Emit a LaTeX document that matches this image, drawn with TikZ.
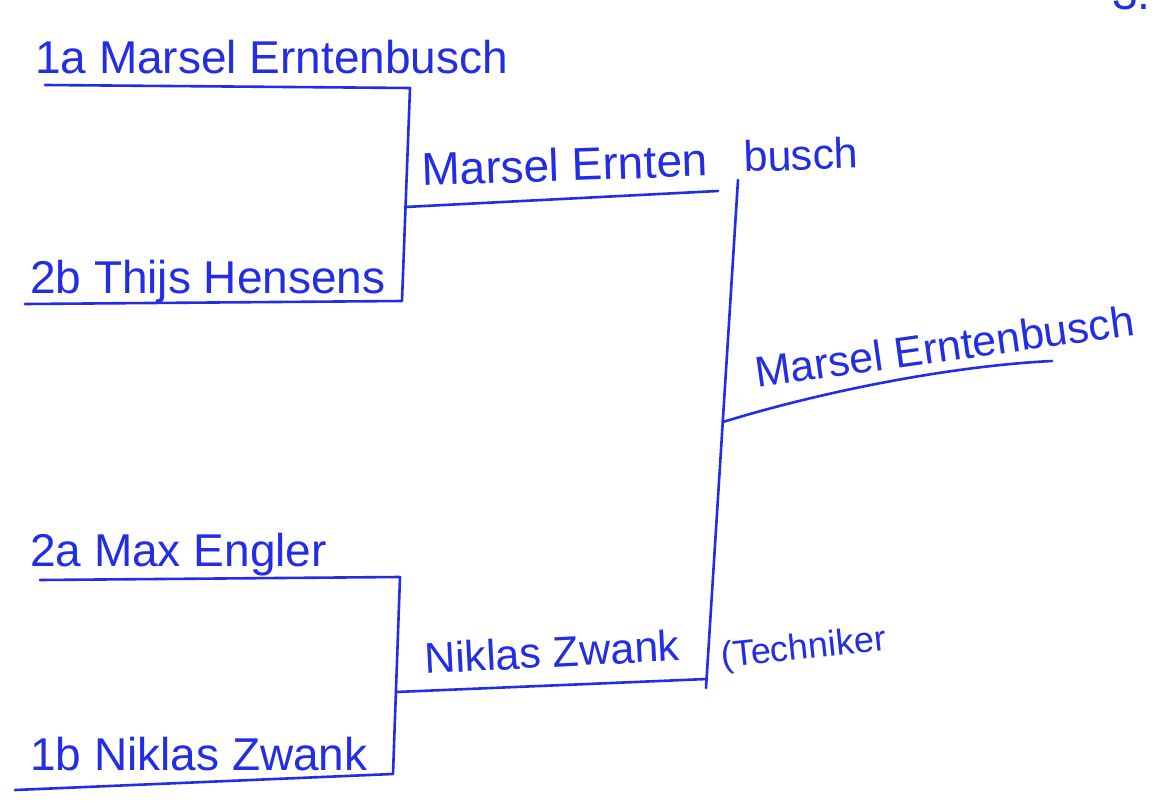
\documentclass[tikz,border=0pt]{standalone}
\usepackage{fontspec}
\setmainfont{Liberation Sans}
\definecolor{ink}{RGB}{35,45,230}
\begin{document}
\begin{tikzpicture}[x=1pt,y=-1pt,
  bar/.style={draw=ink, line width=2.6pt, line cap=round, line join=round},
  lbl/.style={anchor=base west, inner sep=0pt, text=ink, font=\fontsize{46}{50}\selectfont},
  lblm/.style={lbl, font=\fontsize{43}{48}\selectfont},
  lbls/.style={lbl, font=\fontsize{36}{40}\selectfont}]
\useasboundingbox (0,0) rectangle (1157,805);
\fill[white] (0,0) rectangle (1157,805);
% coordinates of the bracket
\coordinate (a1s) at (45,85);
\coordinate (a1e) at (410,88);
\coordinate (b2e) at (402,301);
\coordinate (b2s) at (25,304);
\coordinate (w1s) at (405,207);
\coordinate (w1e) at (718,191);
\coordinate (a2s) at (40,580);
\coordinate (a2e) at (400,577);
\coordinate (b1e) at (393,774);
\coordinate (b1s) at (15,790);
\coordinate (w2s) at (396,692);
\coordinate (w2e) at (707,679);
\coordinate (vtop) at (738,180);
\coordinate (vbot) at (706,688);
\coordinate (fs) at (723,422);
\coordinate (fe) at (1052,361);
% lines
\draw[bar] (a1s) -- (a1e) -- (b2e) -- (b2s);
\draw[bar] (w1s) -- (w1e);
\draw[bar] (a2s) -- (a2e) -- (b1e) -- (b1s);
\draw[bar] (w2s) -- (w2e);
\draw[bar] (vtop) -- (vbot);
\draw[bar] (fs) .. controls (820,392) and (950,366) .. (fe);
% labels
\node[lbl] (t1a) at (35,74) {1a Marsel Erntenbusch};
\node[lbl] (t2b) at (30,293) {2b Thijs Hensens};
\node[lbl] (t2a) at (30,566) {2a Max Engler};
\node[lbl] (t1b) at (30,770) {1b Niklas Zwank};
\node[lbl, rotate=2] (r1) at (422,186) {Marsel Ernten};
\node[lblm, rotate=2] (r1b) at (744,172) {busch};
\node[lblm, rotate=3] (r2) at (425,674) {Niklas Zwank};
\node[lbls, rotate=6] (r2t) at (722,668) {(Techniker};
\node[lblm, rotate=8] (fin) at (757,388) {Marsel Erntenbusch};
\node[lbl] (pl) at (1112,10) {3.};
\end{tikzpicture}
\end{document}
